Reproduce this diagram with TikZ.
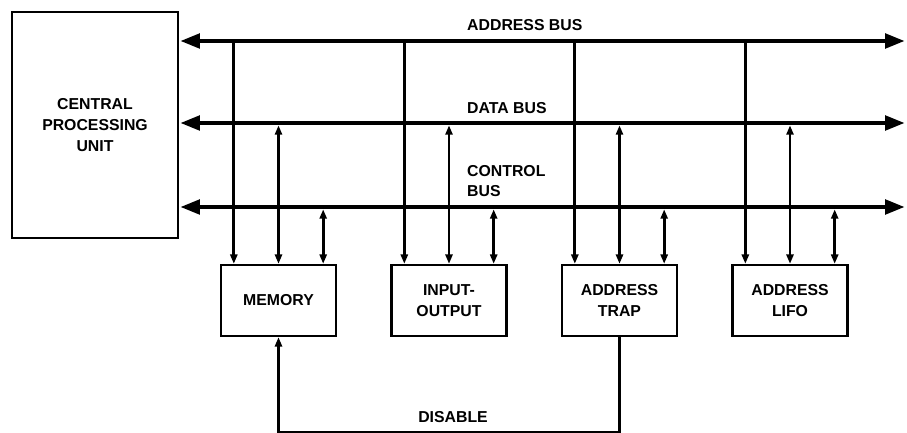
\documentclass[tikz,border=0pt]{standalone}
\usepackage{fontspec}
\setmainfont{Liberation Sans}
\usetikzlibrary{arrows.meta, positioning, calc}

\tikzset{
  unit/.style={draw, line width=2pt, minimum width=3.45cm, minimum height=2.13cm,
    align=center, inner sep=0pt, font=\bfseries\fontsize{13.5}{18}\selectfont},
  bus/.style={line width=4pt, {Triangle[length=17pt, width=12pt]}-{Triangle[length=17pt, width=12pt]}},
  tap/.style={line width=2.3pt},
  tip/.tip={Triangle[length=8pt, width=6pt]},
  lbl/.style={font=\bfseries\fontsize{13.5}{17}\selectfont, align=left, inner sep=0pt}
}

\begin{document}
\begin{tikzpicture}[x=0.03cm, y=-0.03cm]
  \useasboundingbox (0,0) rectangle (907,433);

  % Processor
  \node[unit, minimum width=4.98cm, minimum height=6.78cm] (cpu) at (95,125) {CENTRAL\\PROCESSING\\UNIT};

  % Units on the bus
  \node[unit] (mem) at (278.5,300.5) {MEMORY};
  \node[unit] (io) at (449,300.5) {INPUT-\\OUTPUT};
  \node[unit] (trap) at (619.5,300.5) {ADDRESS\\TRAP};
  \node[unit] (lifo) at (790,300.5) {ADDRESS\\LIFO};

  % Busses
  \coordinate (ab-w) at (180,41); \coordinate (ab-e) at (905,41);
  \coordinate (db-w) at (180,123); \coordinate (db-e) at (905,123);
  \coordinate (cb-w) at (180,207); \coordinate (cb-e) at (905,207);
  \draw[bus] (ab-w) -- (ab-e);
  \draw[bus] (db-w) -- (db-e);
  \draw[bus] (cb-w) -- (cb-e);

  \node[lbl, anchor=west] (ab-l) at (467,25) {ADDRESS BUS};
  \node[lbl, anchor=west] (db-l) at (467,108) {DATA BUS};
  \node[lbl, anchor=west] (cb-l) at (467,181) {CONTROL\\BUS};

  % Taps from the busses
  \foreach \u in {mem,io,trap,lifo} {
    \coordinate (\u-a) at ($(\u.north west)+(14,0)$);
    \coordinate (\u-c) at ($(\u.north east)+(-14,0)$);
    \draw[tap, -tip] (\u-a |- ab-w) -- (\u-a);
    \draw[tap, tip-tip, shorten <=2pt] (\u.north |- db-w) -- (\u.north);
    \draw[tap, tip-tip, shorten <=2pt] (\u-c |- cb-w) -- (\u-c);
  }

  % Disable line
  \coordinate (dis) at (0,432);
  \draw[tap, -tip] (trap.south) -- (trap.south |- dis) -| (mem.south);
  \node[lbl] (dis-l) at (453,417) {DISABLE};
\end{tikzpicture}
\end{document}
